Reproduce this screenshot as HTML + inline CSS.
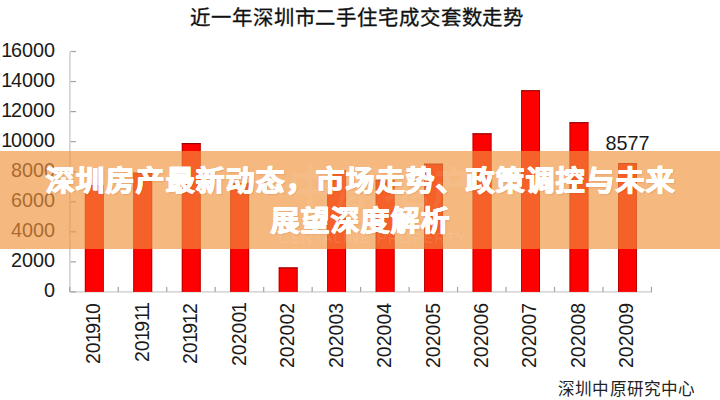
<!DOCTYPE html>
<html lang="zh-CN"><head><meta charset="utf-8">
<style>
html,body{margin:0;padding:0;}
body{width:720px;height:400px;position:relative;overflow:hidden;background:#fff;font-family:"Liberation Sans",sans-serif;}
.ax{position:absolute;background:#b4b4b4;}
.tk{position:absolute;background:#9a9a9a;}
.yl{position:absolute;right:664.9px;font-size:19.8px;line-height:22px;color:#1a1a1a;text-align:right;}
.bar{position:absolute;background:#ff0000;box-sizing:border-box;border:1px solid #b00000;border-bottom:none;}
.xl{position:absolute;top:302.5px;height:80px;width:24px;margin-left:-12px;line-height:24px;font-size:19.5px;color:#1a1a1a;writing-mode:vertical-rl;transform:rotate(180deg);text-align:end;white-space:nowrap;}
.xl i,.yl i{font-style:normal;margin-inline:-1.1px;}
#title{position:absolute;left:0;top:5.3px;width:713.5px;box-sizing:border-box;padding-left:0.87px;letter-spacing:0.87px;text-align:center;font-size:20.4px;line-height:26px;color:#111;-webkit-text-stroke:0.3px #111;}
#v{position:absolute;left:605.5px;top:132px;font-size:19.8px;line-height:22px;color:#1a1a1a;}
#cap{position:absolute;left:558px;top:378.5px;letter-spacing:0.2px;font-size:16.6px;line-height:22px;color:#222;white-space:nowrap;}
#banner{position:absolute;left:0;top:151px;width:720px;height:97.5px;background:rgba(240,147,61,0.66);}
#wm{position:absolute;left:279px;top:231px;font-size:14.5px;letter-spacing:1.36px;line-height:14px;color:rgba(255,255,255,0.12);white-space:nowrap;}
#wm2{position:absolute;left:288px;top:164px;font-size:44px;letter-spacing:4px;line-height:50px;color:rgba(255,255,255,0.08);white-space:nowrap;font-weight:bold;}
#bt{position:absolute;left:0;top:161.0px;width:720px;text-align:center;font-size:28.6px;line-height:40px;letter-spacing:1.0px;padding-left:1.0px;box-sizing:border-box;font-weight:bold;color:#fff;-webkit-text-stroke:0.85px #fff;text-shadow:0.7px 0 0 #fff, -0.5px 0 0 #fff, 0 0.4px 0 #fff, 1px 1px 1.5px rgba(150,60,0,0.22);}
</style></head><body>
<div id="title">近一年深圳市二手住宅成交套数走势</div>
<svg width="720" height="400" style="position:absolute;left:0;top:0"><rect x="69.25" y="51.50" width="1.3" height="240.90" fill="#c8c8c8"/><rect x="69.90" y="291.30" width="582.04" height="1.2" fill="#c8c8c8"/><rect x="70.55" y="50.90" width="5.5" height="1.2" fill="#a4a4a4"/><rect x="70.55" y="80.95" width="5.5" height="1.2" fill="#a4a4a4"/><rect x="70.55" y="111.00" width="5.5" height="1.2" fill="#a4a4a4"/><rect x="70.55" y="141.05" width="5.5" height="1.2" fill="#a4a4a4"/><rect x="70.55" y="171.10" width="5.5" height="1.2" fill="#a4a4a4"/><rect x="70.55" y="201.15" width="5.5" height="1.2" fill="#a4a4a4"/><rect x="70.55" y="231.20" width="5.5" height="1.2" fill="#a4a4a4"/><rect x="70.55" y="261.25" width="5.5" height="1.2" fill="#a4a4a4"/><rect x="70.55" y="291.30" width="5.5" height="1.2" fill="#a4a4a4"/><rect x="69.20" y="286.90" width="1.2" height="5" fill="#a4a4a4"/><rect x="117.67" y="286.90" width="1.2" height="5" fill="#a4a4a4"/><rect x="166.14" y="286.90" width="1.2" height="5" fill="#a4a4a4"/><rect x="214.61" y="286.90" width="1.2" height="5" fill="#a4a4a4"/><rect x="263.08" y="286.90" width="1.2" height="5" fill="#a4a4a4"/><rect x="311.55" y="286.90" width="1.2" height="5" fill="#a4a4a4"/><rect x="360.02" y="286.90" width="1.2" height="5" fill="#a4a4a4"/><rect x="408.49" y="286.90" width="1.2" height="5" fill="#a4a4a4"/><rect x="456.96" y="286.90" width="1.2" height="5" fill="#a4a4a4"/><rect x="505.43" y="286.90" width="1.2" height="5" fill="#a4a4a4"/><rect x="553.90" y="286.90" width="1.2" height="5" fill="#a4a4a4"/><rect x="602.37" y="286.90" width="1.2" height="5" fill="#a4a4a4"/><rect x="650.84" y="286.90" width="1.2" height="5" fill="#a4a4a4"/><rect x="84.88" y="185.22" width="18.8" height="106.68" fill="#ff0000"/><rect x="84.88" y="185.22" width="18.8" height="1" fill="#850000"/><rect x="84.88" y="185.22" width="0.8" height="106.68" fill="#a80000"/><rect x="102.88" y="185.22" width="0.8" height="106.68" fill="#a80000"/><rect x="133.35" y="172.71" width="18.8" height="119.19" fill="#ff0000"/><rect x="133.35" y="172.71" width="18.8" height="1" fill="#850000"/><rect x="133.35" y="172.71" width="0.8" height="119.19" fill="#a80000"/><rect x="151.35" y="172.71" width="0.8" height="119.19" fill="#a80000"/><rect x="181.82" y="143.15" width="18.8" height="148.75" fill="#ff0000"/><rect x="181.82" y="143.15" width="18.8" height="1" fill="#850000"/><rect x="181.82" y="143.15" width="0.8" height="148.75" fill="#a80000"/><rect x="199.82" y="143.15" width="0.8" height="148.75" fill="#a80000"/><rect x="230.29" y="183.22" width="18.8" height="108.68" fill="#ff0000"/><rect x="230.29" y="183.22" width="18.8" height="1" fill="#850000"/><rect x="230.29" y="183.22" width="0.8" height="108.68" fill="#a80000"/><rect x="248.29" y="183.22" width="0.8" height="108.68" fill="#a80000"/><rect x="278.77" y="267.45" width="18.8" height="24.45" fill="#ff0000"/><rect x="278.77" y="267.45" width="18.8" height="1" fill="#850000"/><rect x="278.77" y="267.45" width="0.8" height="24.45" fill="#a80000"/><rect x="296.77" y="267.45" width="0.8" height="24.45" fill="#a80000"/><rect x="327.24" y="170.20" width="18.8" height="121.70" fill="#ff0000"/><rect x="327.24" y="170.20" width="18.8" height="1" fill="#850000"/><rect x="327.24" y="170.20" width="0.8" height="121.70" fill="#a80000"/><rect x="345.24" y="170.20" width="0.8" height="121.70" fill="#a80000"/><rect x="375.71" y="179.96" width="18.8" height="111.94" fill="#ff0000"/><rect x="375.71" y="179.96" width="18.8" height="1" fill="#850000"/><rect x="375.71" y="179.96" width="0.8" height="111.94" fill="#a80000"/><rect x="393.71" y="179.96" width="0.8" height="111.94" fill="#a80000"/><rect x="424.18" y="163.69" width="18.8" height="128.21" fill="#ff0000"/><rect x="424.18" y="163.69" width="18.8" height="1" fill="#850000"/><rect x="424.18" y="163.69" width="0.8" height="128.21" fill="#a80000"/><rect x="442.18" y="163.69" width="0.8" height="128.21" fill="#a80000"/><rect x="472.65" y="133.34" width="18.8" height="158.56" fill="#ff0000"/><rect x="472.65" y="133.34" width="18.8" height="1" fill="#850000"/><rect x="472.65" y="133.34" width="0.8" height="158.56" fill="#a80000"/><rect x="490.65" y="133.34" width="0.8" height="158.56" fill="#a80000"/><rect x="521.12" y="90.26" width="18.8" height="201.64" fill="#ff0000"/><rect x="521.12" y="90.26" width="18.8" height="1" fill="#850000"/><rect x="521.12" y="90.26" width="0.8" height="201.64" fill="#a80000"/><rect x="539.12" y="90.26" width="0.8" height="201.64" fill="#a80000"/><rect x="569.59" y="122.22" width="18.8" height="169.68" fill="#ff0000"/><rect x="569.59" y="122.22" width="18.8" height="1" fill="#850000"/><rect x="569.59" y="122.22" width="0.8" height="169.68" fill="#a80000"/><rect x="587.59" y="122.22" width="0.8" height="169.68" fill="#a80000"/><rect x="618.05" y="163.03" width="18.8" height="128.87" fill="#ff0000"/><rect x="618.05" y="163.03" width="18.8" height="1" fill="#850000"/><rect x="618.05" y="163.03" width="0.8" height="128.87" fill="#a80000"/><rect x="636.05" y="163.03" width="0.8" height="128.87" fill="#a80000"/></svg><div class="yl" style="top:39.00px"><i>1</i>6000</div><div class="yl" style="top:69.05px"><i>1</i>4000</div><div class="yl" style="top:99.10px"><i>1</i>2000</div><div class="yl" style="top:129.15px"><i>1</i>0000</div><div class="yl" style="top:159.20px">8000</div><div class="yl" style="top:189.25px">6000</div><div class="yl" style="top:219.30px">4000</div><div class="yl" style="top:249.35px">2000</div><div class="yl" style="top:279.40px">0</div><div class="xl" style="left:93.23px"><span>20<i>1</i>9<i>1</i>0</span></div><div class="xl" style="left:141.70px"><span>20<i>1</i>9<i>1</i><i>1</i></span></div><div class="xl" style="left:190.17px"><span>20<i>1</i>9<i>1</i>2</span></div><div class="xl" style="left:238.64px"><span>20200<i>1</i></span></div><div class="xl" style="left:287.12px"><span>202002</span></div><div class="xl" style="left:335.58px"><span>202003</span></div><div class="xl" style="left:384.06px"><span>202004</span></div><div class="xl" style="left:432.52px"><span>202005</span></div><div class="xl" style="left:481.00px"><span>202006</span></div><div class="xl" style="left:529.47px"><span>202007</span></div><div class="xl" style="left:577.94px"><span>202008</span></div><div class="xl" style="left:626.40px"><span>202009</span></div>
<div id="v">8577</div>
<div id="cap">深圳中原研究中心</div>
<div id="banner"></div>
<div id="wm">CENTALINE PROPERTY</div>
<div id="wm2">中原地产</div>
<div id="bt">深圳房产最新动态，市场走势、政策调控与未来<br>展望深度解析</div>
</body></html>
